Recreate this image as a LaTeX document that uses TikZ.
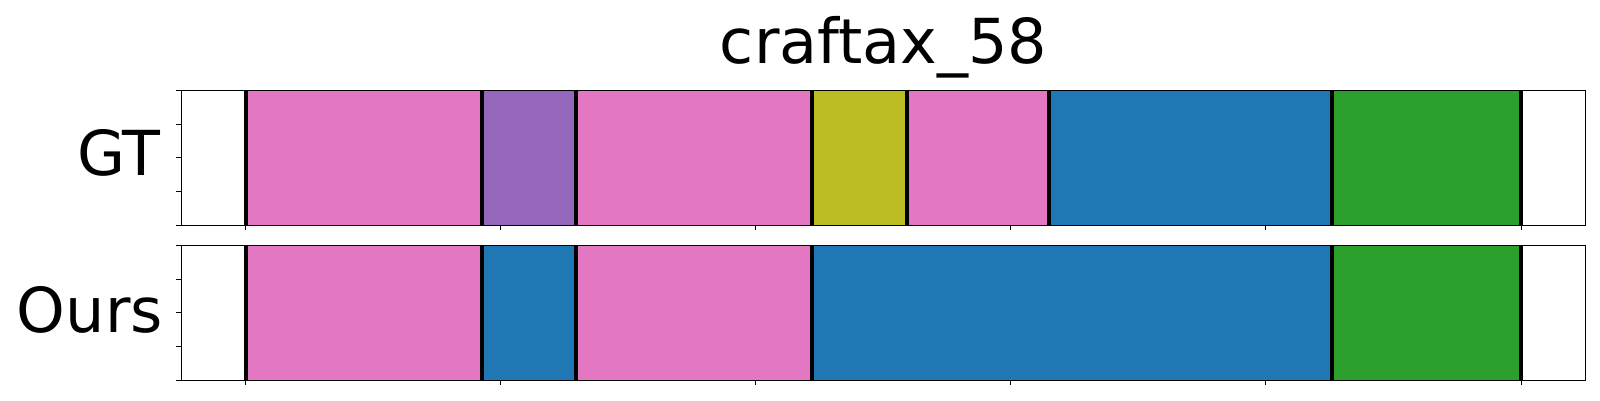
\documentclass[tikz,border=0pt]{standalone}
\usepackage{fontspec}
\setmainfont{DejaVu Sans}
\definecolor{tpink}{HTML}{E377C2}
\definecolor{tpurple}{HTML}{9467BD}
\definecolor{tolive}{HTML}{BCBD22}
\definecolor{tblue}{HTML}{1F77B4}
\definecolor{tgreen}{HTML}{2CA02C}
\tikzset{
  bigtext/.style={font=\fontsize{62}{70}\selectfont, inner sep=0pt},
  frame/.style={draw=black, line width=1.1pt},
  sep/.style={draw=black, line width=4pt},
  tickmark/.style={draw=black, line width=1pt},
}
\begin{document}
\begin{tikzpicture}[x=1pt,y=-1pt]
\useasboundingbox (0,0) rectangle (1600,400);
\fill[white] (0,0) rectangle (1600,400);
% title
\node[bigtext, anchor=base] (title) at (883.5,63.3) {craftax\_58};
% panel GT
\foreach \a/\b/\c in {245.5/482/tpink, 482/576/tpurple, 576/812/tpink, 812/907/tolive, 907/1049/tpink, 1049/1332/tblue, 1332/1521/tgreen}{
  \fill[\c] (\a,90.3) rectangle (\b,225.3);
}
% panel Ours
\foreach \a/\b/\c in {245.5/482/tpink, 482/576/tblue, 576/812/tpink, 812/1332/tblue, 1332/1521/tgreen}{
  \fill[\c] (\a,245.3) rectangle (\b,380.3);
}
\foreach \x in {245.5,482,576,812,907,1049,1332,1521}{
  \draw[sep] (\x,90.3) -- (\x,225.3);
}
\foreach \x in {245.5,482,576,812,1332,1521}{
  \draw[sep] (\x,245.3) -- (\x,380.3);
}
\draw[frame] (181.3,90.3) rectangle (1585.7,225.3);
\draw[frame] (181.3,245.3) rectangle (1585.7,380.3);
% ticks
\foreach \k in {0,...,4}{
  \draw[tickmark] (181.3,90.3+33.75*\k) -- (176.3,90.3+33.75*\k);
  \draw[tickmark] (181.3,245.3+33.75*\k) -- (176.3,245.3+33.75*\k);
}
\foreach \k in {0,...,5}{
  \draw[tickmark] (245.5+255.1*\k,225.3) -- (245.5+255.1*\k,230.3);
  \draw[tickmark] (245.5+255.1*\k,380.3) -- (245.5+255.1*\k,385.3);
}
% labels
\node[bigtext, anchor=base east] (gt) at (161,175.5) {GT};
\node[bigtext, anchor=base east] (ours) at (163,332) {Ours};
\end{tikzpicture}
\end{document}
